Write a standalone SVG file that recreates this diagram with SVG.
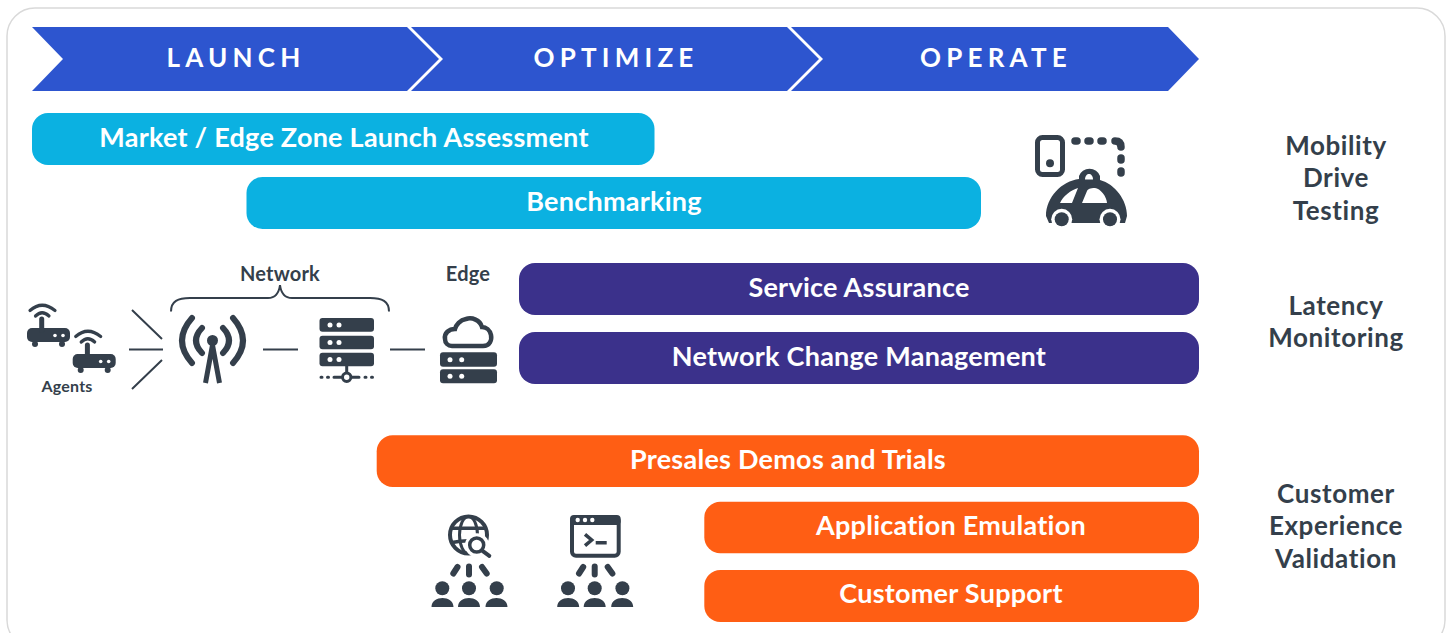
<svg xmlns="http://www.w3.org/2000/svg" xmlns:xlink="http://www.w3.org/1999/xlink" width="1449" height="633" viewBox="0 0 1449 633">
<style>
text{font-family:"Lato","Noto Sans",sans-serif;font-weight:700;text-anchor:middle}
.w{fill:#fff;font-size:27px;letter-spacing:.25px}
.d{fill:#343f4b;font-size:26px;letter-spacing:.6px}
.s{fill:#343f4b;font-size:20px;letter-spacing:.2px}
.h{fill:#fff;font-size:26px;letter-spacing:5.2px}
.ic{fill:#343f4b}
.wf{fill:#fff}
.l{stroke:#343f4b;stroke-width:2;fill:none}
.o{stroke:#343f4b;fill:none;stroke-width:3}
.r{stroke-linecap:round}
</style>
<defs>
<g id="router">
<rect x="27" y="328" width="43" height="14" rx="5" class="ic"/>
<circle cx="35" cy="344" r="3" class="ic"/><circle cx="62" cy="344" r="3" class="ic"/>
<circle cx="55" cy="335.500" r="1.800" class="wf"/><circle cx="63" cy="335.500" r="1.800" class="wf"/>
<path d="M41.700 319V330" class="o r" style="stroke-width:5"/>
<path d="M30 310.500Q42 300 55 310.500M35.500 316Q42 309.500 49 316" class="o r" style="stroke-width:3.200"/>
</g>
<g id="people">
<circle cx="442.300" cy="588.300" r="7" class="ic"/><circle cx="469" cy="588.300" r="7" class="ic"/><circle cx="496.700" cy="588.300" r="7" class="ic"/>
<path d="M431.500 607C431.500 601 437 598 442.500 598C448 598 453.500 601 453.500 607ZM458 607C458 601 463.500 598 469 598C474.500 598 480 601 480 607ZM485.500 607C485.500 601 491 598 496.500 598C502 598 507.500 601 507.500 607Z" class="ic"/>
<path d="M453.300 573.500L457.500 567M469 566.500V574.500M482 567L486.700 573.500" class="o r" style="stroke-width:6"/>
</g>
</defs>
<rect x="7" y="8" width="1438" height="640" rx="28" fill="#fff" stroke="#d9d9d9" stroke-width="1.500"/>
<g id="launch"><path d="M32 27H407L439 59L407 91H32L63 59Z" fill="#2d55cf"/><text class="h" x="236" y="67">LAUNCH</text></g>
<g id="optimize"><path d="M411 27H787L819 59L787 91H411L443 59Z" fill="#2d55cf"/><text class="h" x="616" y="67">OPTIMIZE</text></g>
<g id="operate"><path d="M791 27H1168L1199 59L1168 91H791L823 59Z" fill="#2d55cf"/><text class="h" x="996" y="67">OPERATE</text></g>
<g id="market"><rect x="32" y="113" width="622.500" height="52" rx="16" fill="#0bb1e1"/><text class="w" x="344" y="147">Market / Edge Zone Launch Assessment</text></g>
<g id="benchmarking"><rect x="246.500" y="177" width="734.500" height="52" rx="16" fill="#0bb1e1"/><text class="w" x="614" y="211">Benchmarking</text></g>
<g id="service"><rect x="519" y="263" width="680" height="52" rx="16" fill="#3b318b"/><text class="w" x="859" y="297">Service Assurance</text></g>
<g id="change"><rect x="519" y="332" width="680" height="52" rx="16" fill="#3b318b"/><text class="w" x="859" y="366">Network Change Management</text></g>
<g id="presales"><rect x="376.700" y="435.300" width="822.300" height="51.700" rx="16" fill="#ff5e14"/><text class="w" x="788" y="469">Presales Demos and Trials</text></g>
<g id="emulation"><rect x="704.300" y="501.700" width="494.700" height="51.500" rx="16" fill="#ff5e14"/><text class="w" x="951" y="535">Application Emulation</text></g>
<g id="support"><rect x="704.300" y="570" width="494.700" height="52" rx="16" fill="#ff5e14"/><text class="w" x="951" y="603">Customer Support</text></g>
<g id="labels">
<text class="d" x="1336" y="155">Mobility</text><text class="d" x="1336" y="187">Drive</text><text class="d" x="1336" y="220">Testing</text>
<text class="d" x="1336" y="315">Latency</text><text class="d" x="1336" y="347">Monitoring</text>
<text class="d" x="1336" y="503">Customer</text><text class="d" x="1336" y="535">Experience</text><text class="d" x="1336" y="568">Validation</text>
<text class="s" x="280" y="281">Network</text><text class="s" x="468" y="281">Edge</text><text class="s" x="67" y="392" style="font-size:16px">Agents</text>
</g>
<g id="connectors">
<path class="l" d="M132 310L162 339M129 349.500H163M132 389L162 360M263 349.500H298M390 349.500H425"/>
<path class="l" d="M171 311.500C171 301 178 298 190 298H268C275 298 279 293 280 285C281 293 285 298 292 298H370C382 298 389 301 389 311.500"/>
</g>
<g id="car-icon">
<rect x="1037.500" y="137.500" width="25" height="37" rx="5" class="o" style="stroke-width:5"/>
<circle cx="1050" cy="163.300" r="4" class="ic"/>
<path d="M1075 141H1077M1088 141H1090M1101 141H1103M1115 141C1119 141 1121 143 1121 147M1121 158V160M1121 171V173" class="o r" style="stroke-width:7.500"/>
<path d="M1046 216C1046 197 1062 181 1079 179V176A11 10.500 0 0 1 1100 176V180C1115 184 1127 200 1127 216L1125 223H1049Z" class="ic"/>
<path d="M1085 179.500C1085 176 1087 174 1089 174C1091 174 1093 176 1093 179.500Z" class="wf"/>
<path d="M1060 203C1063 196 1071 190 1078 188L1072 203ZM1082 203L1087 191C1088 189 1090 188 1095 188C1100 188 1107 197 1107 203Z" class="wf"/>
<circle cx="1061.700" cy="219.300" r="10.500" class="wf"/><circle cx="1110" cy="219.300" r="10.500" class="wf"/>
<circle cx="1061.700" cy="219.300" r="7" class="ic"/><circle cx="1110" cy="219.300" r="7" class="ic"/>
</g>
<g id="agents-icon"><use xlink:href="#router" href="#router"/><use xlink:href="#router" href="#router" transform="translate(45.700 26)"/></g>
<g id="tower-icon">
<circle cx="212.500" cy="340.500" r="5.500" class="ic"/>
<path d="M212.500 345L205.500 383M212.500 345L219.500 383" class="o" style="stroke-width:5"/>
<path d="M202 328Q190 340.500 202 353M192 318Q172 340.500 192 363M223 328Q235 340.500 223 353M233 318Q253 340.500 233 363" class="o r" style="stroke-width:6"/>
</g>
<g id="server-icon">
<rect x="319.500" y="318" width="54.500" height="13.700" rx="3" class="ic"/><rect x="319.500" y="335.700" width="54.500" height="13.500" rx="3" class="ic"/><rect x="319.500" y="352.700" width="54.500" height="13.500" rx="3" class="ic"/>
<circle cx="330" cy="325" r="2.500" class="wf"/><circle cx="339" cy="325" r="2.500" class="wf"/>
<circle cx="330" cy="342.500" r="2.500" class="wf"/><circle cx="339" cy="342.500" r="2.500" class="wf"/>
<circle cx="330" cy="359.500" r="2.500" class="wf"/><circle cx="339" cy="359.500" r="2.500" class="wf"/>
<path d="M346.700 366V373M321 377.300H322M327.500 377.300H328.500M334 377.300H341M352 377.300H359M365 377.300H366M371.500 377.300H372.500" class="o r"/>
<circle cx="346.700" cy="377.300" r="4.200" fill="#fff" stroke="#343f4b" stroke-width="3"/>
</g>
<g id="edge-icon">
<path d="M452 346H483C490 346 492 340 491 335C490 330 486 327 482 327C480 320 472 317 466 319C460 320 456 325 455 329C449 329 444 333 445 339C445 343 448 346 452 346Z" class="o" style="stroke-width:4.500"/>
<rect x="440" y="352.300" width="57" height="14.400" rx="3" class="ic"/><rect x="440" y="369.300" width="57" height="14" rx="3" class="ic"/>
<circle cx="450" cy="359.700" r="2.500" class="wf"/><circle cx="461.700" cy="359.700" r="2.500" class="wf"/>
<circle cx="450" cy="376.300" r="2.500" class="wf"/><circle cx="461.700" cy="376.300" r="2.500" class="wf"/>
</g>
<g id="globe-icon">
<circle cx="468.500" cy="535" r="18.500" class="o" style="stroke-width:4"/>
<ellipse cx="468.500" cy="535" rx="9" ry="18.500" class="o" style="stroke-width:3"/>
<path d="M451 528.300H486M452 542.500Q468.500 539 485 542.500" class="o" style="stroke-width:3.500"/>
<circle cx="477" cy="545.200" r="12" class="wf"/>
<circle cx="476.700" cy="545" r="7" class="o" style="stroke-width:3.500"/>
<path d="M482.500 550.800L489.300 555.800" class="o r" style="stroke-width:4"/>
</g>
<g id="people-1"><use xlink:href="#people" href="#people"/></g>
<g id="terminal-icon">
<rect x="572" y="517" width="46.700" height="38.700" rx="4" class="o" style="stroke-width:4"/>
<rect x="570" y="515" width="50.700" height="10" rx="4" class="ic"/>
<circle cx="577.700" cy="520" r="2.200" class="wf"/><circle cx="585" cy="520" r="2.200" class="wf"/><circle cx="592.300" cy="520" r="2.200" class="wf"/>
<path d="M585 534.300L591.700 540L585 545.700M595.700 542.700H606.700" class="o" style="stroke-width:3.500"/>
</g>
<g id="people-2"><use xlink:href="#people" href="#people" transform="translate(125.700 0)"/></g>
</svg>
